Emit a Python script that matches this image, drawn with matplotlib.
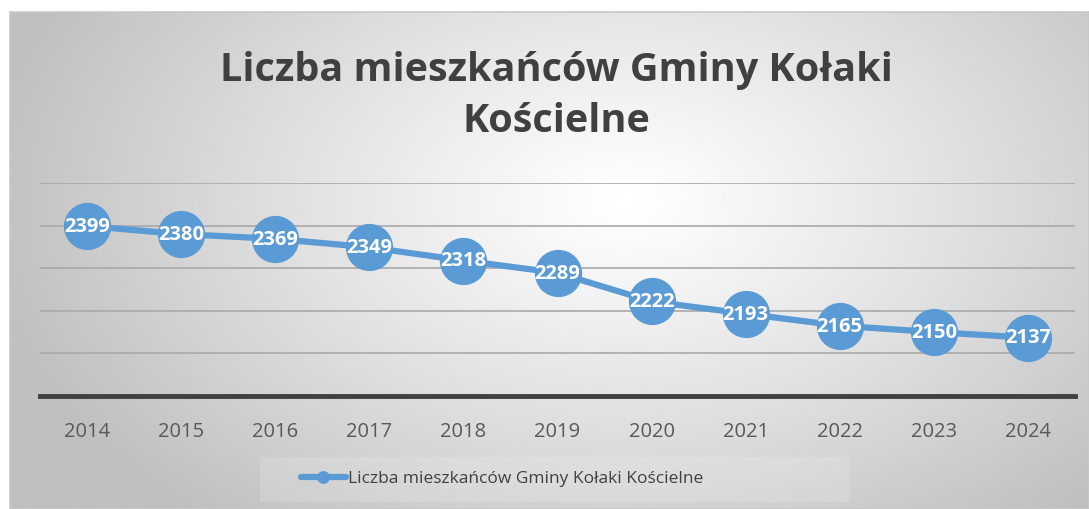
import numpy as np
import matplotlib
matplotlib.use("Agg")
import matplotlib.pyplot as plt
from matplotlib.patches import Rectangle

years = ["2014", "2015", "2016", "2017", "2018", "2019", "2020", "2021", "2022", "2023", "2024"]
people = [2399, 2380, 2369, 2349, 2318, 2289, 2222, 2193, 2165, 2150, 2137]
series_name = "Liczba mieszkańców Gminy Kołaki Kościelne"
title = "Liczba mieszkańców Gminy Kołaki\nKościelne"

plt.rcParams['font.family'] = ['Open Sans', 'DejaVu Sans']

W, H = 1089, 509
fig = plt.figure(figsize=(W / 100, H / 100), dpi=100)
fig.patch.set_facecolor("white")

# radial grey-to-white background of the chart frame
bg = fig.add_axes([10 / W, 0, 1 - 10 / W, (H - 12) / H], zorder=0)
gx, gy = np.meshgrid(np.linspace(0, 1, 400), np.linspace(0, 1, 200))
r = np.sqrt(((gx - 0.57) / 0.6) ** 2 + ((gy - 0.38) / 0.85) ** 2)
v = 1 - 0.25 * np.clip(r, 0, 1) ** 1.1
bg.imshow(v, cmap="gray", vmin=0, vmax=1, aspect="auto", extent=[0, 1, 0, 1], origin="upper")
bg.set_xticks([])
bg.set_yticks([])
for s in bg.spines.values():
    s.set_color("#c8c8c8")
    s.set_linewidth(1.2)

# faint legend box
fig.patches.append(Rectangle((260 / W, 1 - 502 / H), 590 / W, 45 / H, transform=fig.transFigure,
                             facecolor="white", alpha=0.15, edgecolor="none", zorder=0.5))

ax = fig.add_axes([40 / W, (H - 396) / H, (1075 - 40) / W, (396 - 183) / H], zorder=1)
ax.patch.set_alpha(0)
x = np.arange(len(years))
ax.plot(x, people, color="#5b9bd5", lw=4.5, marker="o", ms=33, mec="#5b9bd5", solid_capstyle="round", zorder=3)
for xi, p in zip(x, people):
    ax.text(xi, p - 2, str(p), color="white", fontsize=14.5, fontweight="bold", ha="center", va="center", zorder=4)

ax.set_xlim(-0.5, len(years) - 0.5)
ax.set_ylim(2000, 2500)
ax.set_yticks([2100, 2200, 2300, 2400, 2500])
ax.yaxis.grid(True, color="#a9a9a9", lw=1.2)
ax.set_axisbelow(True)
ax.tick_params(axis="y", left=False, labelleft=False)
ax.set_xticks(x)
ax.set_xticklabels(years, fontsize=14.5, color="#595959")
ax.tick_params(axis="x", length=0, pad=19)
for k in ["left", "right", "top"]:
    ax.spines[k].set_visible(False)
ax.spines["bottom"].set_color("#404040")
ax.spines["bottom"].set_linewidth(3.5)

fig.text(556 / W, 1 - 96 / H, title, ha="center", va="center", fontsize=28.5, fontweight="bold",
         color="#404040", linespacing=1.42)

leg = ax.legend([series_name], loc="center", bbox_to_anchor=(502 / W, 1 - 479 / H),
                bbox_transform=fig.transFigure, frameon=False, fontsize=12.5, markerscale=0.25,
                handlelength=2.6, handletextpad=0.15)
for t in leg.get_texts():
    t.set_color("#404040")

fig.savefig("out.png", dpi=100)
